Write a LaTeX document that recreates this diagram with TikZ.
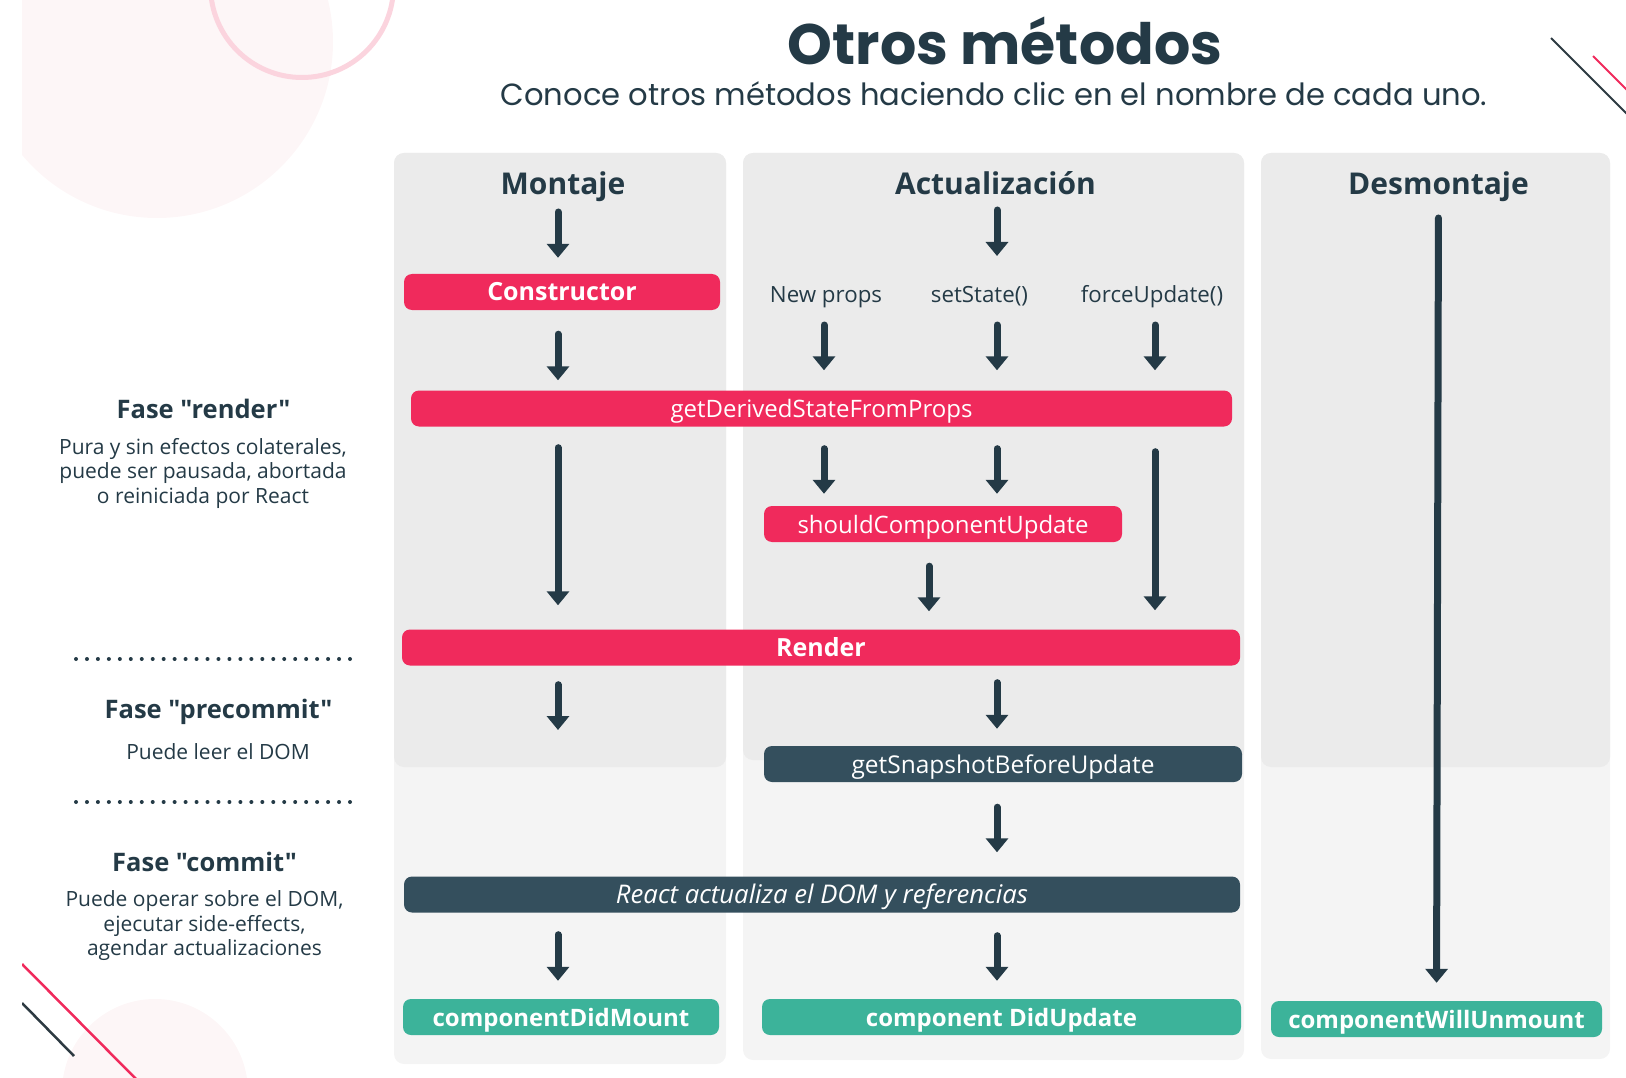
\documentclass[tikz,border=0pt]{standalone}
\usepackage{fontspec}
\setmainfont{Open Sans}[Ligatures=TeXOff]
\newfontfamily\titlefont{Poppins}
\usetikzlibrary{positioning,arrows.meta,calc}

\definecolor{inkdark}{RGB}{36,58,70}
\definecolor{boxpink}{RGB}{240,42,92}
\definecolor{boxslate}{RGB}{52,79,93}
\definecolor{boxteal}{RGB}{60,179,154}
\definecolor{panelhi}{RGB}{235,235,235}
\definecolor{panello}{RGB}{244,244,244}
\definecolor{blushfill}{RGB}{253,246,247}
\definecolor{blushring}{RGB}{251,212,222}
\definecolor{lineink}{RGB}{45,58,66}

\begin{document}
\begin{tikzpicture}[
x=1pt, y=-1pt,
lifecycle/.style={rectangle, rounded corners=8pt, text=white, inner sep=0pt, minimum height=36pt, text height=18pt, text depth=0pt},
renderbox/.style={lifecycle, fill=boxpink, font=\fontsize{24}{28}\selectfont},
renderkey/.style={lifecycle, fill=boxpink, font=\bfseries\fontsize{25}{28}\selectfont},
commitbox/.style={lifecycle, fill=boxslate, font=\fontsize{24.5}{28}\selectfont},
donebox/.style={lifecycle, fill=boxteal, font=\bfseries\fontsize{24}{28}\selectfont},
phase/.style={anchor=base, inner sep=0pt, text=inkdark, font=\bfseries\fontsize{30}{34}\selectfont},
trigger/.style={anchor=base, inner sep=0pt, text=inkdark, font=\fontsize{22.3}{26}\selectfont},
phasename/.style={inner sep=0pt, text=inkdark, font=\bfseries\fontsize{25.5}{28}\selectfont},
phasenote/.style={inner sep=0pt, text=inkdark, align=center, font=\fontsize{21}{24.5}\selectfont},
arrow/.style={-{Triangle[width=22pt,length=14pt]}, line width=7pt, draw=inkdark, line cap=round},
panel/.style={rounded corners=10pt}
]
\useasboundingbox (0,0) rectangle (1626,1078);

% decoration
\begin{scope}
\clip (22,0) rectangle (1626,1078);
\fill[blushfill] (157,42) circle (176);
\draw[blushring, line width=5pt] (302,-14) circle (91.5);
\fill[blushfill] (155,1092) circle (93);
\draw[boxpink, line width=2.5pt] (22,964) -- (137,1080);
\draw[lineink, line width=2.5pt] (22,1003) -- (74,1056);
\end{scope}
\draw[lineink, line width=1.8pt] (1551,38) -- (1628,115);
\draw[boxpink, line width=1.8pt] (1593,56) -- (1628,91);

% title
\node[text=inkdark, font=\titlefont\bfseries\fontsize{57}{60}\selectfont] (title) at (1005,41) {Otros métodos};
\node[text=inkdark, font=\titlefont\fontsize{30.6}{34}\selectfont] (subtitle) at (994,94) {Conoce otros métodos haciendo clic en el nombre de cada uno.};

% panels
\fill[panello, panel] (394,153) rectangle (726,1064);
\fill[panelhi, panel] (394,153) rectangle (726,767);
\fill[panello, panel] (743,153) rectangle (1244,1060);
\fill[panelhi, panel] (743,153) rectangle (1244,760);
\fill[panello, panel] (1261,153) rectangle (1610,1059);
\fill[panelhi, panel] (1261,153) rectangle (1610,767);

% phases on the left
\node[phasename] (frender) at (203.5,409) {Fase "render"};
\node[phasenote] (nrender) at (203,473) {Pura y sin efectos colaterales,\\puede ser pausada, abortada\\o reiniciada por React};
\node[phasename] (fprecommit) at (218.5,712) {Fase "precommit"};
\node[phasenote] (nprecommit) at (218,752) {Puede leer el DOM};
\node[phasename] (fcommit) at (204.5,862) {Fase "commit"};
\node[phasenote] (ncommit) at (204.5,926) {Puede operar sobre el DOM,\\ejecutar side-effects,\\agendar actualizaciones};
\foreach \i in {0,...,25} {
  \fill[inkdark] (76+\i*10.96,659) circle (2pt);
  \fill[inkdark] (76+\i*10.96,802) circle (2pt);
}

% column heads
\node[phase] (mont) at (563,195) {Montaje};
\node[phase] (act) at (995.5,195) {Actualización};
\node[phase] (desm) at (1438.5,195) {Desmontaje};

\node[trigger] (lnew) at (826,302) {New props};
\node[trigger] (lset) at (979.5,302) {setState()};
\node[trigger] (lforce) at (1152,302) {forceUpdate()};

% methods
\node[renderkey, minimum width=316pt] (ctor) at (562,292) {Constructor};
\node[renderbox, minimum width=821pt] (gdsfp) at (821.5,408.5) {getDerivedStateFromProps};
\node[renderbox, minimum width=358pt] (scu) at (943,524) {shouldComponentUpdate};
\node[renderkey, minimum width=838pt] (render) at (821,647.5) {Render};
\node[commitbox, minimum width=478pt] (snap) at (1003,764) {getSnapshotBeforeUpdate};
\node[commitbox, minimum width=836pt, font=\itshape\fontsize{25.7}{28}\selectfont] (react) at (822,894.5) {React actualiza el DOM y referencias};
\node[donebox, minimum width=316pt] (cdm) at (561,1017) {componentDidMount};
\node[donebox, minimum width=479pt] (cdu) at (1001.5,1017) {component DidUpdate};
\node[donebox, minimum width=331pt] (cwu) at (1436.5,1019) {componentWillUnmount};

\coordinate (mcol) at (558,0);
\coordinate (acol) at (997,0);
\coordinate (pcol) at (824,0);
\coordinate (fcol) at (1155,0);
\coordinate (ucol) at (929,0);
\coordinate (mend) at (558,730);

% Montaje
\draw[arrow, shorten <=17pt, shorten >=16pt] (mont.base -| mcol) -- (ctor.north -| mcol);
\draw[arrow, shorten <=24pt, shorten >=10pt] (ctor.south -| mcol) -- (gdsfp.north -| mcol);
\draw[arrow, shorten <=21pt, shorten >=24pt] (gdsfp.south -| mcol) -- (render.north -| mcol);
\draw[arrow, shorten <=19pt] (render.south -| mcol) -- (mend);
\draw[arrow, shorten <=22pt, shorten >=18pt] (react.south -| mcol) -- (cdm.north -| mcol);

% Actualizacion
\draw[arrow, shorten <=15pt, shorten >=46pt] (act.base -| acol) -- (lset.base -| acol);
\foreach \c/\l in {pcol/lnew, acol/lset, fcol/lforce}
  \draw[arrow, shorten <=23pt, shorten >=20pt] (\l.base -| \c) -- (gdsfp.north -| \c);
\foreach \c in {pcol, acol}
  \draw[arrow, shorten <=22pt, shorten >=12pt] (gdsfp.south -| \c) -- (scu.north -| \c);
\draw[arrow, shorten <=25pt, shorten >=19pt] (gdsfp.south -| fcol) -- (render.north -| fcol);
\draw[arrow, shorten <=24pt, shorten >=18pt] (scu.south -| ucol) -- (render.north -| ucol);
\draw[arrow, shorten <=17pt, shorten >=17pt] (render.south -| acol) -- (snap.north -| acol);
\draw[arrow, shorten <=25pt, shorten >=24pt] (snap.south -| acol) -- (react.north -| acol);
\draw[arrow, shorten <=23pt, shorten >=18pt] (react.south -| acol) -- (cdu.north -| acol);

% Desmontaje
\draw[arrow, shorten <=23pt, shorten >=18pt] (desm.base) -- (cwu.north);

\end{tikzpicture}
\end{document}
